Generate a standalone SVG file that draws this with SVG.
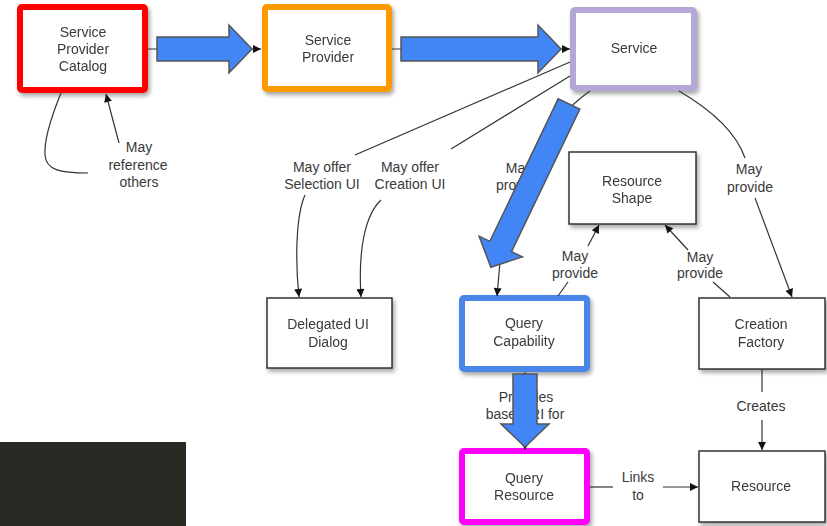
<svg xmlns="http://www.w3.org/2000/svg" width="827" height="526" viewBox="0 0 827 526">
  <style>
    .box { fill: #ffffff; }
    .plain { stroke: #333333; stroke-width: 1.5; }
    .hl { stroke-width: 6; }
    .t { font-family: "Liberation Sans", Arial, sans-serif; font-size: 14px; fill: #3a3a3a; text-anchor: middle; }
    .conn { fill: none; stroke: #333333; stroke-width: 1.2; }
    .big { fill: #4285f4; stroke: #555555; stroke-width: 1.5; stroke-linejoin: miter; }
  </style>
  <defs>
    <filter id="shadow" x="-10%" y="-10%" width="130%" height="140%">
      <feDropShadow dx="2" dy="3" stdDeviation="2" flood-color="#000000" flood-opacity="0.35"/>
    </filter>
    <marker id="arr" viewBox="0 0 10 10" refX="10" refY="5" markerWidth="9" markerHeight="8" markerUnits="userSpaceOnUse" orient="auto">
      <path d="M0,0 L10,5 L0,10 z" fill="#111111"/>
    </marker>
  </defs>

  <rect width="827" height="526" fill="#ffffff"/>
  <rect x="0" y="442" width="186" height="84" fill="#292a24"/>

  <!-- nodes -->
  <g id="service-provider-catalog" filter="url(#shadow)">
    <rect class="box hl" x="20" y="7" width="125" height="83" rx="2" stroke="#ff0000"/>
    <text class="t" x="83" y="37">Service</text>
    <text class="t" x="83" y="54">Provider</text>
    <text class="t" x="83" y="71">Catalog</text>
  </g>
  <g id="service-provider" filter="url(#shadow)">
    <rect class="box hl" x="265" y="7" width="124" height="82" rx="2" stroke="#ff9900"/>
    <text class="t" x="328" y="45">Service</text>
    <text class="t" x="328" y="62">Provider</text>
  </g>
  <g id="service" filter="url(#shadow)">
    <rect class="box hl" x="573" y="10" width="121" height="78" rx="2" stroke="#b4a7d6"/>
    <text class="t" x="634" y="53">Service</text>
  </g>
  <g id="resource-shape" filter="url(#shadow)">
    <rect class="box plain" x="569" y="152" width="127" height="72"/>
    <text class="t" x="632" y="186">Resource</text>
    <text class="t" x="632" y="203">Shape</text>
  </g>
  <g id="delegated-ui-dialog" filter="url(#shadow)">
    <rect class="box plain" x="267" y="298" width="125" height="70"/>
    <text class="t" x="328" y="329">Delegated UI</text>
    <text class="t" x="328" y="347">Dialog</text>
  </g>
  <g id="query-capability" filter="url(#shadow)">
    <rect class="box hl" x="462" y="298" width="125" height="71" rx="2" stroke="#4a86e8"/>
    <text class="t" x="524" y="328">Query</text>
    <text class="t" x="524" y="346">Capability</text>
  </g>
  <g id="creation-factory" filter="url(#shadow)">
    <rect class="box plain" x="699" y="298" width="126" height="71"/>
    <text class="t" x="761" y="329">Creation</text>
    <text class="t" x="761" y="347">Factory</text>
  </g>
  <g id="query-resource" filter="url(#shadow)">
    <rect class="box hl" x="462" y="451" width="125" height="71" rx="2" stroke="#ff00ff"/>
    <text class="t" x="524" y="483">Query</text>
    <text class="t" x="524" y="500">Resource</text>
  </g>
  <g id="resource" filter="url(#shadow)">
    <rect class="box plain" x="699" y="451" width="126" height="71"/>
    <text class="t" x="761" y="491">Resource</text>
  </g>

  <!-- connectors -->
  <g id="connectors">
    <path class="conn" d="M148,49 L261,49" marker-end="url(#arr)"/>
    <path class="conn" d="M392,49 L570,49" marker-end="url(#arr)"/>

    <path class="conn" d="M61,93 C52,115 44,140 45,155 C46,170 60,173 88,173"/>
    <path class="conn" d="M119,143 L106,94" marker-end="url(#arr)"/>
    <text class="t" x="139" y="152">May</text>
    <text class="t" x="138" y="170">reference</text>
    <text class="t" x="139" y="187">others</text>

    <path class="conn" d="M570,62 L355,155"/>
    <text class="t" x="322" y="172">May offer</text>
    <text class="t" x="322" y="189">Selection UI</text>
    <path class="conn" d="M305,195 C296,215 295,260 299,297" marker-end="url(#arr)"/>

    <path class="conn" d="M570,76 L451,149"/>
    <text class="t" x="410" y="172">May offer</text>
    <text class="t" x="410" y="189">Creation UI</text>
    <path class="conn" d="M381,200 C365,215 358,250 361,297" marker-end="url(#arr)"/>

    <path class="conn" d="M590,91 C570,105 552,125 540,150"/>
    <text class="t" x="519" y="173">May</text>
    <text class="t" x="519" y="190">provide</text>
    <path class="conn" d="M500,262 L497,296" marker-end="url(#arr)"/>

    <path class="conn" d="M679,91 C715,112 737,135 745,158"/>
    <text class="t" x="749" y="174">May</text>
    <text class="t" x="750" y="192">provide</text>
    <path class="conn" d="M755,198 L792,297" marker-end="url(#arr)"/>

    <path class="conn" d="M558,296 L568,282"/>
    <text class="t" x="575" y="261">May</text>
    <text class="t" x="575" y="278">provide</text>
    <path class="conn" d="M588,246 L599,225" marker-end="url(#arr)"/>

    <path class="conn" d="M730,297 L713,282"/>
    <text class="t" x="700" y="262">May</text>
    <text class="t" x="700" y="278">provide</text>
    <path class="conn" d="M688,250 L665,225" marker-end="url(#arr)"/>

    <path class="conn" d="M762,369 L762,392"/>
    <text class="t" x="761" y="411">Creates</text>
    <path class="conn" d="M762,420 L762,450" marker-end="url(#arr)"/>

    <path class="conn" d="M590,487 L613,487"/>
    <text class="t" x="638" y="482">Links</text>
    <text class="t" x="638" y="500">to</text>
    <path class="conn" d="M663,487 L698,487" marker-end="url(#arr)"/>

    <text class="t" x="526" y="402">Provides</text>
    <text class="t" x="525" y="419">base URI for</text>
    <path class="conn" d="M525,372 L525,450" marker-end="url(#arr)"/>
  </g>

  <!-- block arrows -->
  <g id="block-arrows">
    <polygon class="big" transform="translate(157,49)" points="0,-12 72,-12 72,-24 95,0 72,24 72,12 0,12"/>
    <polygon class="big" transform="translate(401,49)" points="0,-12 137,-12 137,-24 160,0 137,24 137,12 0,12"/>
    <polygon class="big" transform="translate(569,104) rotate(115.6)" points="0,-12 158,-12 158,-24 181,0 158,24 158,12 0,12"/>
    <polygon class="big" transform="translate(525,374) rotate(90)" points="0,-12 50,-12 50,-24 73,0 50,24 50,12 0,12"/>
  </g>
</svg>
